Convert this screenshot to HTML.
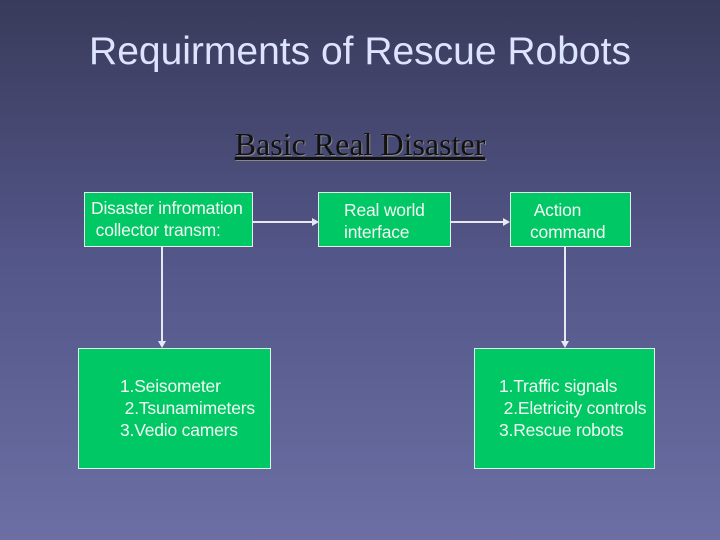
<!DOCTYPE html>
<html><head><style>
body{margin:0;width:720px;height:540px;overflow:hidden;background:linear-gradient(#393b5b,#54578a 50%,#6c6fa3);font-family:"Liberation Sans",sans-serif;position:relative}
.t{position:absolute;left:0;width:720px;text-align:center;color:#dde4ff;font-size:39px;top:30px}
.s{position:absolute;left:0;width:720px;text-align:center;top:126px;font-family:"Liberation Serif",serif;font-size:32px;color:#111;text-decoration:underline;text-shadow:1px 1px 0 #888}
.b{position:absolute;background:#00c864;border:1px solid #e0f0e8;box-sizing:border-box;color:#f4f8f4;font-size:17.5px;line-height:22px;white-space:pre;letter-spacing:-0.2px}
</style></head><body>
<div class="t">Requirments of Rescue Robots</div>
<div class="s">Basic Real Disaster</div>
<svg width="720" height="540" style="position:absolute;left:0;top:0">
<g stroke="#e8e8f4" stroke-width="2" fill="#e8e8f4">
<line x1="253" y1="222" x2="314" y2="222"/><polygon points="319,222 312,218 312,226" stroke="none"/>
<line x1="451" y1="222" x2="505" y2="222"/><polygon points="510,222 503,218 503,226" stroke="none"/>
<line x1="162" y1="247" x2="162" y2="342"/><polygon points="162,348 158,341 166,341" stroke="none"/>
<line x1="565" y1="247" x2="565" y2="342"/><polygon points="565,348 561,341 569,341" stroke="none"/>
</g></svg>
<div class="b" style="left:84px;top:192px;width:169px;height:55px;padding:4px 0 0 6px">Disaster infromation
 collector transm:</div>
<div class="b" style="left:318px;top:192px;width:133px;height:55px;padding:6px 0 0 25px">Real world
interface</div>
<div class="b" style="left:510px;top:192px;width:121px;height:55px;padding:6px 0 0 19px"> Action
command</div>
<div class="b" style="left:78px;top:348px;width:193px;height:121px;padding:26px 0 0 41px">1.Seisometer
 2.Tsunamimeters
3.Vedio camers</div>
<div class="b" style="left:474px;top:348px;width:181px;height:121px;padding:26px 0 0 24px">1.Traffic signals
 2.Eletricity controls
3.Rescue robots</div>
</body></html>
